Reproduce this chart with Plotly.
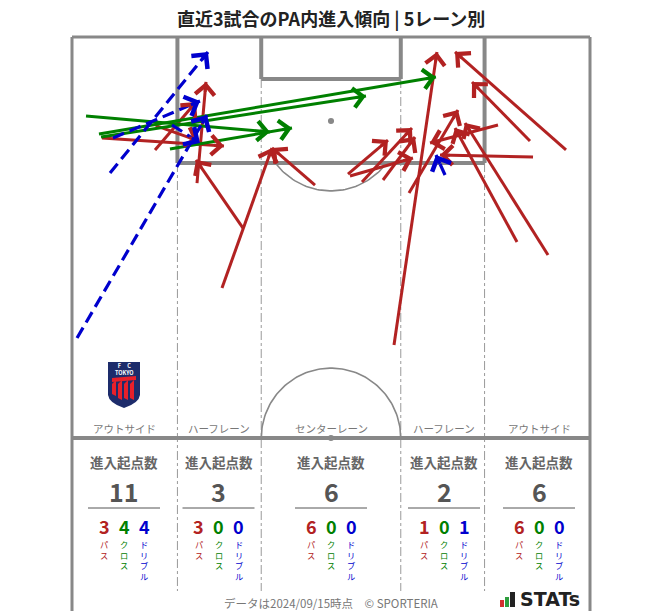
import numpy as np
import plotly.graph_objects as go

# ---------------- data (metres: x across pitch 0-68, y from goal line 0-52.5) -------------
pass_x0 = [3.94, 10.90, 11.0, 19.69, 22.45, 16.41, 31.90, 42.27, 36.23, 38.07, 40.83, 36.49,
           44.24, 64.85, 60.12, 62.49, 58.42, 60.52, 55.92]
pass_y0 = [13.22, 14.79, 11.6, 32.86, 25.01, 19.12, 19.38, 40.32, 17.94, 18.98, 18.72, 18.20,
           20.42, 14.79, 13.62, 28.54, 26.84, 15.71, 11.52]
pass_x1 = [19.95, 16.28, 16.6, 26.25, 16.28, 17.59, 26.25, 47.91, 41.48, 44.63, 45.03, 44.76,
           50.67, 50.28, 52.51, 51.59, 50.28, 48.31, 47.00]
pass_y1 = [14.27, 8.51, 13.6, 14.53, 16.10, 5.89, 14.53, 1.96, 13.49, 11.91, 13.09, 15.84,
           9.56, 1.96, 5.89, 11.26, 11.91, 15.45, 13.88]

cross_x0 = [1.84, 3.54, 3.81, 12.86]
cross_y0 = [10.34, 12.70, 13.09, 14.66]
cross_x1 = [25.99, 47.78, 38.59, 28.88]
cross_y1 = [12.44, 5.24, 7.72, 11.91]

drib_x0 = [0.66, 4.99, 5.38, 13.13, 48.97]
drib_y0 = [39.41, 17.81, 13.22, 11.52, 18.07]
drib_x1 = [17.72, 17.85, 16.80, 16.80, 47.78]
drib_y1 = [10.21, 1.96, 8.38, 13.88, 15.45]

lane_names = ['アウトサイド', 'ハーフレーン', 'センターレーン', 'ハーフレーン', 'アウトサイド']
lane_total = [11, 3, 6, 2, 6]
lane_pass = [3, 3, 6, 1, 6]
lane_cross = [4, 0, 0, 0, 0]
lane_drib = [4, 0, 0, 1, 0]

RED, GREEN, BLUE = '#b22222', '#008000', '#0000cd'
LINE = '#888888'
FONT = 'Noto Sans CJK JP'

# ---------------- pixel helpers for decorations -------------
W, H = 663, 611
SX = 518 / 68.0
SY = 401 / 52.5
X0, Y0 = 72, 37
def mx(px): return (px - X0) / SX
def my(py): return (py - Y0) / SY

fig = go.Figure()
shapes = []
ann = []

def seg(x0, y0, x1, y1, w=3, color=LINE, dash=None):
    d = dict(type='line', x0=x0, y0=y0, x1=x1, y1=y1, xref='x', yref='y', layer='below',
             line=dict(color=color, width=w))
    if dash:
        d['line']['dash'] = dash
    shapes.append(d)

bottom = my(611)
# outer frame
seg(0, 0, 68, 0, 3)
seg(0, 0, 0, bottom, 3)
seg(68, 0, 68, bottom, 3)
# lane lines
for lx, ly in [(13.84, 16.5), (24.84, 5.5), (43.16, 5.5), (54.16, 16.5)]:
    seg(lx, ly, lx, my(591), 1, '#999999', 'dashdot')
# penalty area
seg(13.84, 0, 13.84, 16.5, 4)
seg(54.16, 0, 54.16, 16.5, 4)
seg(13.84, 16.5, 54.16, 16.5, 4)
# goal area
seg(24.84, 0, 24.84, 5.5, 4)
seg(43.16, 0, 43.16, 5.5, 4)
seg(24.84, 5.5, 43.16, 5.5, 4)
# halfway
seg(0, 52.5, 68, 52.5, 4)
# spots
for cy in [11, 52.5]:
    shapes.append(dict(type='circle', xref='x', yref='y', x0=34 - 0.4, x1=34 + 0.4,
                       y0=cy - 0.4, y1=cy + 0.4, fillcolor=LINE, line=dict(width=0), layer='below'))
# arcs
t = np.linspace(np.arcsin(5.5 / 9.15), np.pi - np.arcsin(5.5 / 9.15), 60)
fig.add_trace(go.Scatter(x=34 + 9.15 * np.cos(t), y=11 + 9.15 * np.sin(t), mode='lines',
                         line=dict(color=LINE, width=1.6), hoverinfo='skip', showlegend=False))
t = np.linspace(0, np.pi, 90)
fig.add_trace(go.Scatter(x=34 + 9.15 * np.cos(t), y=52.5 - 9.15 * np.sin(t), mode='lines',
                         line=dict(color=LINE, width=1.6), hoverinfo='skip', showlegend=False))

# ---------------- arrows -------------
def add_arrows(xs0, ys0, xs1, ys1, color, dash, width):
    for a, b, c, d in zip(xs0, ys0, xs1, ys1):
        fig.add_trace(go.Scatter(x=[a, c], y=[b, d], mode='lines',
                                 line=dict(color=color, width=width, dash=dash),
                                 hoverinfo='skip', showlegend=False))
        L = np.hypot(c - a, d - b)
        k = min(1.5 / L, 1.0)
        ann.append(dict(x=c, y=d, ax=c - (c - a) * k, ay=d - (d - b) * k, xref='x', yref='y',
                        axref='x', ayref='y', text='', showarrow=True, arrowhead=4,
                        arrowsize=1.25, arrowwidth=width, arrowcolor=color, standoff=0))

add_arrows(pass_x0, pass_y0, pass_x1, pass_y1, RED, 'solid', 3)
add_arrows(cross_x0, cross_y0, cross_x1, cross_y1, GREEN, 'solid', 3)
add_arrows(drib_x0, drib_y0, drib_x1, drib_y1, BLUE, '12px,6px', 3.2)

# ---------------- texts -------------
def txt(px, py, s, size, color, bold=False, xanchor='center', family=FONT, yanchor='middle'):
    ann.append(dict(x=mx(px), y=my(py), xref='x', yref='y', text=s, showarrow=False,
                    xanchor=xanchor, yanchor=yanchor, borderpad=0,
                    font=dict(family=family, size=size, color=color,
                              weight='bold' if bold else 'normal')))

txt(331, 18, '直近3試合のPA内進入傾向 | 5レーン別', 18, '#222222', True)

centers = [124, 218.5, 331, 444, 539]
for i, cx in enumerate(centers):
    txt(cx, 428, lane_names[i], 10.5, '#777777')
    txt(cx, 462, '進入起点数', 13.5, '#666666', True)
    txt(cx, 491, str(lane_total[i]), 25, '#555555', True)
    shapes.append(dict(type='line', xref='x', yref='y', x0=mx(cx - 36), x1=mx(cx + 36),
                       y0=my(508), y1=my(508), line=dict(color='#555555', width=1)))
    for off, val, col, lab in [(-20, lane_pass[i], RED, 'パス'),
                               (0, lane_cross[i], GREEN, 'クロス'),
                               (20, lane_drib[i], BLUE, 'ドリブル')]:
        txt(cx + off, 526, str(val), 18, col, True)
        txt(cx + off, 537, '<br>'.join(lab), 8.2, col, yanchor='top')

txt(331, 603, 'データは2024/09/15時点　© SPORTERIA', 11.5, '#777777')

# STATs logo
for bx0, bx1, by0, col in [(500, 504, 600, '#d32f2f'), (505, 509, 597, '#2e9e3e'), (510, 515, 592, '#222222')]:
    shapes.append(dict(type='rect', xref='x', yref='y', x0=mx(bx0), x1=mx(bx1), y0=my(by0), y1=my(607),
                       fillcolor=col, line=dict(width=0)))
txt(519, 599, 'STATs', 19, '#222222', True, 'left', 'DejaVu Sans')

# FC Tokyo emblem
def P(px, py): return f'{mx(px):.3f},{my(py):.3f}'
shield = (f'M {P(108,362)} L {P(140,362)} L {P(140,395)} Q {P(139,403)} {P(124,408)} '
          f'Q {P(109,403)} {P(108,395)} Z')
shapes.append(dict(type='path', path=shield, xref='x', yref='y', fillcolor='#1d2c6b', line=dict(width=0)))
for sx in [112, 118, 124, 130]:
    stripe = f'M {P(sx,384)} L {P(sx+4,380)} L {P(sx+4,400 if sx>112 else 396)} L {P(sx,398 if sx>112 else 394)} Z'
    shapes.append(dict(type='path', path=stripe, xref='x', yref='y', fillcolor='#e8202a', line=dict(width=0)))
shapes.append(dict(type='path', path=f'M {P(112,378)} L {P(136,376)} L {P(136,380)} L {P(112,382)} Z',
                   xref='x', yref='y', fillcolor='#e8202a', line=dict(width=0)))
txt(124, 369, 'F&nbsp;&nbsp;&nbsp;&nbsp;&nbsp;C<br>TOKYO', 5.5, '#ffffff', True)

fig.update_layout(
    width=W, height=H, margin=dict(l=0, r=0, t=0, b=0),
    paper_bgcolor='white', plot_bgcolor='white',
    xaxis=dict(range=[mx(0), mx(W)], visible=False, fixedrange=True),
    yaxis=dict(range=[my(H), my(0)], visible=False, fixedrange=True),
    shapes=shapes, annotations=ann, showlegend=False,
)
fig.write_html('out.html')
